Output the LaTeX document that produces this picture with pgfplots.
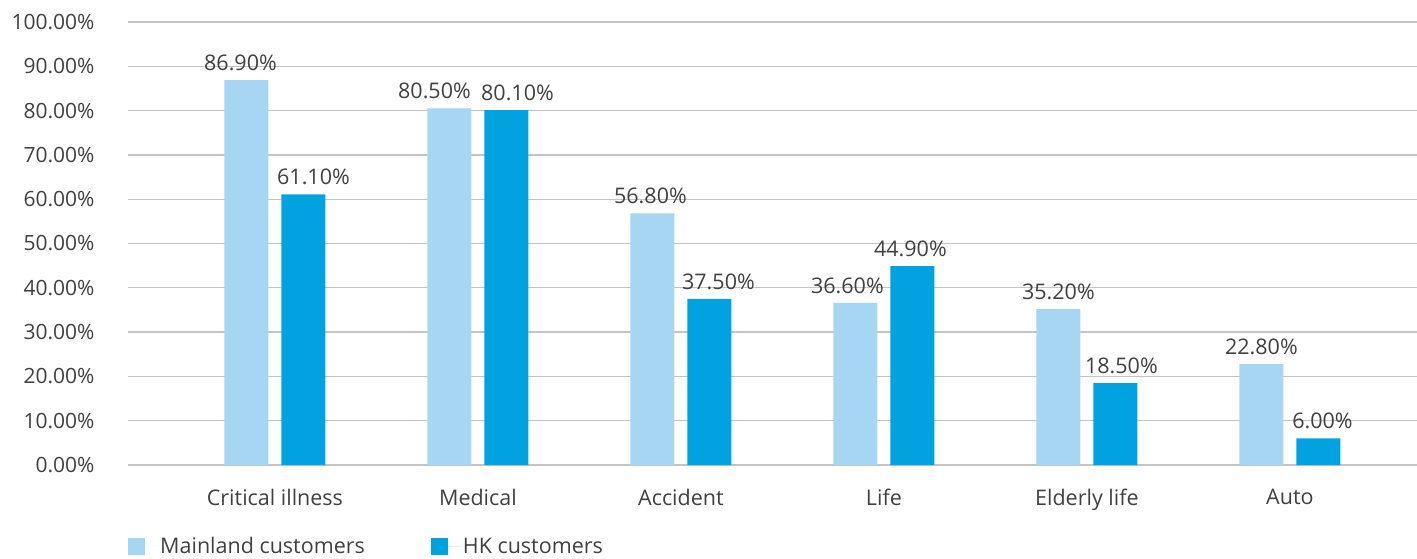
\documentclass[border=0pt]{standalone}
\usepackage{pgfplots}
\pgfplotsset{compat=1.18}
\usepackage{fontspec}
\setmainfont{Open Sans}
\definecolor{mainl}{HTML}{A6D6F2}
\definecolor{hk}{HTML}{00A3E0}
\definecolor{gridc}{HTML}{C4C4C4}
\definecolor{txt}{HTML}{404040}
\begin{document}
\begin{tikzpicture}
\path[use as bounding box] (-128pt,-93pt) rectangle (1289pt,465pt);
\begin{axis}[
  scale only axis,
  width=1289pt, height=443pt,
  at={(0,0)}, anchor=south west,
  ybar=13pt, bar width=44pt,
  xmin=-0.724, xmax=5.626,
  ymin=0, ymax=100,
  ytick={0,10,...,100},
  xtick={0,1,2,3,4,5},
  xticklabels={Critical illness,Medical,Accident,Life,Elderly life,Auto},
  ymajorgrids, grid style={gridc, line width=1.3pt},
  axis line style={draw=none},
  tick style={draw=none},
  /pgf/number format/assume math mode=true,
  yticklabel={\pgfmathprintnumber[fixed,fixed zerofill,precision=2]{\tick}\%},
  yticklabel style={font=\fontsize{21}{25}\selectfont, text=txt, xshift=-30pt},
  xticklabel style={font=\fontsize{21.5}{25}\selectfont, text=txt, yshift=-16pt},
  nodes near coords={\pgfmathprintnumber[fixed,fixed zerofill,precision=2]{\pgfplotspointmeta}\%},
  visualization depends on={\thisrow{dx} \as \dx},
  nodes near coords style={font=\fontsize{21.5}{25}\selectfont, text=txt, inner sep=2pt, yshift=7pt, xshift=\dx pt},
  legend columns=2,
  legend style={at={(0,-70pt)}, anchor=north west, draw=none, fill=none,
    font=\fontsize{21.5}{25}\selectfont, text=txt, inner sep=0pt,
    /tikz/every even column/.append style={column sep=64pt}},
  legend image code/.code={\fill[#1] (0pt,-8.5pt) rectangle (17pt,8.5pt); \path (0pt,0pt) -- (30pt,0pt);},
  legend cell align=left,
]
\addplot[fill=mainl, draw=none] table[x=x, y=y] {
x y dx
0 86.9 -6
1 80.5 -15
2 56.8 -2
3 36.6 -8
4 35.2 0
5 22.8 0
};
\addplot[fill=hk, draw=none] table[x=x, y=y] {
x y dx
0 61.1 10
1 80.1 11
2 37.5 9
3 44.9 -2
4 18.5 6
5 6.0 4
};
\legend{Mainland customers, HK customers}
\end{axis}
\end{tikzpicture}
\end{document}
